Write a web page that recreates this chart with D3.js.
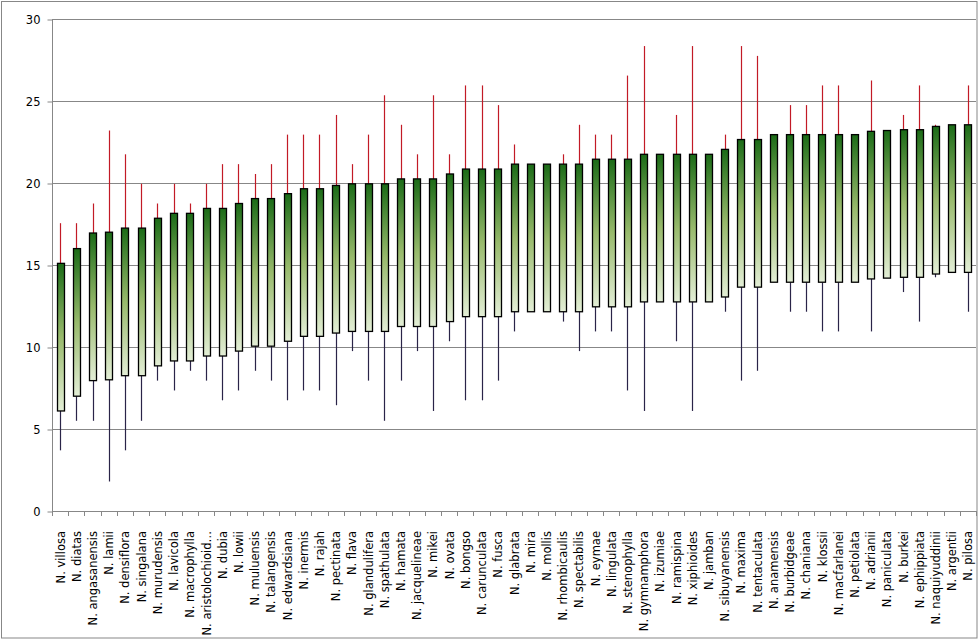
<!DOCTYPE html>
<meta charset="utf-8">
<style>
body { margin: 0; background: #fff; }
svg text { font-family: "DejaVu Sans", Verdana, sans-serif; }
</style>
<svg width="979" height="641"></svg>
<script src="https://d3js.org/d3.v7.min.js"></script>
<script>

var species = ["N. villosa", "N. diatas", "N. angasanensis", "N. lamii", "N. densiflora", "N. singalana",
  "N. murudensis", "N. lavicola", "N. macrophylla", "N. aristolochioid\u2026", "N. dubia", "N. lowii",
  "N. muluensis", "N. talangensis", "N. edwardsiana", "N. inermis", "N. rajah", "N. pectinata", "N. flava",
  "N. glandulifera", "N. spathulata", "N. hamata", "N. jacquelineae", "N. mikei", "N. ovata", "N. bongso",
  "N. carunculata", "N. fusca", "N. glabrata", "N. mira", "N. mollis", "N. rhombicaulis", "N. spectabilis",
  "N. eymae", "N. lingulata", "N. stenophylla", "N. gymnamphora", "N. izumiae", "N. ramispina",
  "N. xiphioides", "N. jamban", "N. sibuyanensis", "N. maxima", "N. tentaculata", "N. anamensis",
  "N. burbidgeae", "N. chaniana", "N. klossii", "N. macfarlanei", "N. petiolata", "N. adrianii",
  "N. paniculata", "N. burkei", "N. ephippiata", "N. naquiyuddinii", "N. argentii", "N. pilosa"]

// box top / bottom
var boxTop = [15.1, 16.0, 16.95, 17.0, 17.25, 17.25, 17.85, 18.15, 18.15, 18.45, 18.45, 18.75, 19.05,
  19.05, 19.35, 19.65, 19.65, 19.85, 19.95, 19.95, 19.95, 20.25, 20.25, 20.25, 20.55, 20.85, 20.85,
  20.85, 21.15, 21.15, 21.15, 21.15, 21.15, 21.45, 21.45, 21.45, 21.75, 21.75, 21.75, 21.75, 21.75,
  22.05, 22.65, 22.65, 22.95, 22.95, 22.95, 22.95, 22.95, 22.95, 23.15, 23.2, 23.25, 23.25, 23.45,
  23.55, 23.55]
var boxBottom = [6.1, 7.0, 7.95, 8.0, 8.25, 8.25, 8.85, 9.15, 9.15, 9.45, 9.45, 9.75, 10.05, 10.05,
  10.35, 10.65, 10.65, 10.85, 10.95, 10.95, 10.95, 11.25, 11.25, 11.25, 11.55, 11.85, 11.85, 11.85,
  12.15, 12.15, 12.15, 12.15, 12.15, 12.45, 12.45, 12.45, 12.75, 12.75, 12.75, 12.75, 12.75, 13.05,
  13.65, 13.65, 13.95, 13.95, 13.95, 13.95, 13.95, 13.95, 14.15, 14.2, 14.25, 14.25, 14.45, 14.55,
  14.55]
// whisker ends (null = no whisker)
var whiskHigh = [17.55, 17.55, 18.75, 23.2, 21.75, 19.95, 18.75, 19.95, 18.75, 19.95, 21.15, 21.15,
  20.55, 21.15, 22.95, 22.95, 22.95, 24.15, 21.15, 22.95, 25.35, 23.55, 21.75, 25.35, 21.75, 25.95,
  25.95, 24.75, 22.35, null, null, 21.75, 23.55, 22.95, 22.95, 26.55, 28.35, null, 24.15, 28.35, null,
  22.95, 28.35, 27.75, null, 24.75, 24.75, 25.95, 25.95, null, 26.25, null, 24.15, 25.95, 23.55, null,
  25.95]
var whiskLow = [3.7, 5.5, 5.5, 1.8, 3.7, 5.5, 7.95, 7.35, 8.55, 7.95, 6.75, 7.35, 8.55, 7.95, 6.75,
  7.35, 7.35, 6.45, 9.75, 7.95, 5.5, 7.95, 9.75, 6.1, 10.35, 6.75, 6.75, 7.95, 10.95, null, null, 11.55,
  9.75, 10.95, 10.95, 7.35, 6.1, null, 10.35, 6.1, null, 12.15, 7.95, 8.55, null, 12.15, 12.15, 10.95,
  10.95, null, 10.95, null, 13.35, 11.55, 14.25, null, 12.15]

var yTicks = [0, 5, 10, 15, 20, 25, 30]

var data = species.map(function(s, i) {
  return {name: s, top: boxTop[i], bottom: boxBottom[i], hi: whiskHigh[i], lo: whiskLow[i]}
})

var svg = d3.select("svg")
var plotLeft = 52, plotRight = 976, plotTop = 19, plotBottom = 511

// chart border
svg.append("rect")
  .attr("x", 1.5).attr("y", 1.5)
  .attr("width", 975.5).attr("height", 636.5)
  .attr("fill", "none")
  .attr("stroke", "#878787")
  .attr("stroke-width", 1)

var x = d3.scaleBand().domain(species).range([plotLeft, plotRight]).padding(0)
var y = d3.scaleLinear().domain([0, 30]).range([plotBottom, plotTop])

var defs = svg.append("defs")
var grad = defs.append("linearGradient")
  .attr("id", "boxGrad")
  .attr("x1", 0).attr("y1", 0).attr("x2", 0).attr("y2", 1)
grad.append("stop").attr("offset", "0%").attr("stop-color", "#1b6b17")
grad.append("stop").attr("offset", "50%").attr("stop-color", "#98ba6c")
grad.append("stop").attr("offset", "100%").attr("stop-color", "#e3eed6")

// gridlines
svg.append("g")
  .selectAll("line")
  .data(yTicks.filter(function(d) { return d > 0 }))
  .enter()
  .append("line")
  .attr("x1", plotLeft).attr("x2", plotRight)
  .attr("y1", function(d) { return Math.round(y(d)) + 0.5 })
  .attr("y2", function(d) { return Math.round(y(d)) + 0.5 })
  .attr("stroke", "#878787")

// y axis
var yAxis = svg.append("g")
  .attr("transform", "translate(" + (plotLeft + 0.5) + ",0.5)")
  .call(d3.axisLeft(y).tickValues(yTicks).tickSize(5).tickPadding(7))
yAxis.select(".domain").attr("stroke", "#878787").attr("d", "M0," + plotTop + "V" + plotBottom)
yAxis.selectAll(".tick line").attr("stroke", "#878787")
yAxis.selectAll("text").style("font-size", "11.5px").attr("fill", "#000")

// x axis: ticks between categories
var xa = svg.append("g")
xa.append("line")
  .attr("x1", plotLeft).attr("x2", plotRight)
  .attr("y1", plotBottom + 0.5).attr("y2", plotBottom + 0.5)
  .attr("stroke", "#878787")
xa.selectAll(".xt")
  .data(species.concat([null]))
  .enter()
  .append("line")
  .attr("class", "xt")
  .attr("x1", function(d, i) { return Math.round(plotLeft + i * x.step()) + 0.5 })
  .attr("x2", function(d, i) { return Math.round(plotLeft + i * x.step()) + 0.5 })
  .attr("y1", plotBottom).attr("y2", plotBottom + 5)
  .attr("stroke", "#878787")
xa.selectAll(".xl")
  .data(species)
  .enter()
  .append("text")
  .attr("class", "xl")
  .attr("text-anchor", "end")
  .attr("transform", function(d) {
    return "translate(" + (x(d) + x.bandwidth() / 2 + 4.5) + "," + (plotBottom + 20) + ")rotate(-90)"
  })
  .style("font-size", "11.5px")
  .text(function(d) { return d })

var bw = 7

// upper whiskers
svg.append("g")
  .selectAll("line")
  .data(data.filter(function(d) { return d.hi != null }))
  .enter()
  .append("line")
  .attr("x1", function(d) { return Math.round(x(d.name) + x.bandwidth() / 2) + 0.5 })
  .attr("x2", function(d) { return Math.round(x(d.name) + x.bandwidth() / 2) + 0.5 })
  .attr("y1", function(d) { return y(d.hi) })
  .attr("y2", function(d) { return y(d.top) })
  .attr("stroke", "#c21a26")
  .attr("stroke-width", 1.2)

// lower whiskers
svg.append("g")
  .selectAll("line")
  .data(data.filter(function(d) { return d.lo != null }))
  .enter()
  .append("line")
  .attr("x1", function(d) { return Math.round(x(d.name) + x.bandwidth() / 2) + 0.5 })
  .attr("x2", function(d) { return Math.round(x(d.name) + x.bandwidth() / 2) + 0.5 })
  .attr("y1", function(d) { return y(d.bottom) })
  .attr("y2", function(d) { return y(d.lo) })
  .attr("stroke", "#2a2448")
  .attr("stroke-width", 1.2)

// boxes
svg.append("g")
  .selectAll("rect")
  .data(data)
  .enter()
  .append("rect")
  .attr("x", function(d) { return Math.round(x(d.name) + x.bandwidth() / 2 - bw / 2) + 0.5 })
  .attr("y", function(d) { return y(d.top) })
  .attr("width", bw)
  .attr("height", function(d) { return y(d.bottom) - y(d.top) })
  .attr("fill", "url(#boxGrad)")
  .attr("stroke", "#000")
  .attr("stroke-width", 1.3)

</script>
